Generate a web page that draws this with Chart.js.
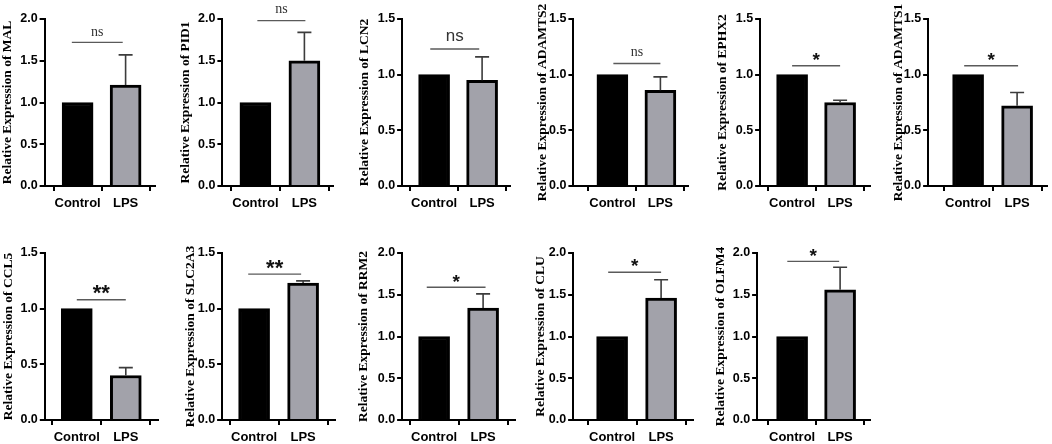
<!DOCTYPE html>
<html>
<head>
<meta charset="utf-8">
<script src="https://cdn.jsdelivr.net/npm/chart.js@4.4.0/dist/chart.umd.min.js"></script>
<style>
  body { margin: 0; width: 1052px; height: 444px; overflow: hidden; background: #fff; position: relative; }
  canvas { position: absolute; }
</style>
</head>
<body>
<script>
// data
const groups = ['Control', 'LPS'];
const genes = ['MAL', 'PID1', 'LCN2', 'ADAMTS2', 'EPHX2', 'ADAMTS1', 'CCL5', 'SLC2A3', 'RRM2', 'CLU', 'OLFM4'];
const controlValues = [1, 1, 1, 1, 1, 1, 1, 1, 1, 1, 1];
const lpsValues = [1.21, 1.50, 0.95, 0.86, 0.75, 0.72, 0.40, 1.23, 1.34, 1.46, 1.56];
const lpsErrorTop = [1.57, 1.84, 1.16, 0.98, 0.77, 0.84, 0.47, 1.25, 1.51, 1.68, 1.83];
const yMaxValues = [2, 2, 1.5, 1.5, 1.5, 1.5, 1.5, 1.5, 2, 2, 2];
const yTickStep = 0.5;
const sigLabels = ['ns', 'ns', 'ns', 'ns', '*', '*', '**', '**', '*', '*', '*'];
const sigLineY = [1.72, 1.98, 1.23, 1.10, 1.08, 1.08, 1.08, 1.31, 1.59, 1.77, 1.90];
const sigTextY = [1.84, 2.12, 1.34, 1.20, 1.18, 1.18, 1.19, 1.42, 1.71, 1.90, 2.02];
const sigFrom = [-0.12, 0.04, -0.08, 0.02, 0, -0.08, 0, -0.12, -0.15, -0.08, -0.1];
const sigTo = [0.94, 1.02, 0.94, 1.0, 1.0, 1.02, 1.0, 0.96, 1.05, 1.0, 0.98];

// panel placement on the page (px)
const axisX = [45, 222, 402, 573, 760, 928, 45, 222, 402, 573, 757];
const tickC0 = [78, 255, 434, 612, 792, 968, 77, 254, 434, 612, 792];
const tickC1 = [126, 304, 482, 660, 840, 1017, 126, 303, 483, 661, 840];
const axisEnd = [155, 333, 510, 688, 870, 1047, 158, 335, 515, 693, 870];
const titleX = [7.5, 184.7, 364, 541.7, 722, 898, 8.3, 190, 363, 540, 720];
const rowTop = [0, 0, 0, 0, 0, 0, 234, 234, 234, 234, 234];
const nsSerif = [true, true, false, true];

const PAD_TOP = 19, PLOT_H = 167, XAXIS_H = 30, PAD_RIGHT = 3;
const TITLE_SIZE = 13.5, TITLE_LH = 1.2;
const SANS = "'Liberation Sans', Arial, sans-serif";
const SERIF = "'Liberation Serif', 'Times New Roman', serif";

const annotate = {
  id: 'annotate',
  afterDatasetsDraw(chart, args, opts) {
    const i = opts.index;
    const { ctx, scales: { x, y } } = chart;
    ctx.save();
    // error bar (upper only)
    const ex = x.getPixelForValue(1);
    const eTop = y.getPixelForValue(lpsErrorTop[i]);
    ctx.strokeStyle = '#3c3c3c';
    ctx.lineWidth = 1.6;
    ctx.beginPath();
    ctx.moveTo(ex, y.getPixelForValue(lpsValues[i]));
    ctx.lineTo(ex, eTop);
    ctx.moveTo(ex - 7, eTop);
    ctx.lineTo(ex + 7, eTop);
    ctx.stroke();
    // significance line
    const ly = y.getPixelForValue(sigLineY[i]);
    ctx.strokeStyle = '#5a5a5a';
    ctx.lineWidth = 1.4;
    ctx.beginPath();
    ctx.moveTo(x.getPixelForValue(sigFrom[i]), ly);
    ctx.lineTo(x.getPixelForValue(sigTo[i]), ly);
    ctx.stroke();
    // label
    const label = sigLabels[i];
    const tx = (x.getPixelForValue(sigFrom[i]) + x.getPixelForValue(sigTo[i])) / 2;
    const ty = y.getPixelForValue(sigTextY[i]);
    ctx.textAlign = 'center';
    ctx.textBaseline = 'alphabetic';
    if (label === 'ns') {
      const size = nsSerif[i] ? 14 : 17;
      ctx.font = `${size}px ${nsSerif[i] ? SERIF : SANS}`;
      ctx.fillStyle = '#333';
      ctx.fillText(label, tx, ty + size * 0.26);
    } else {
      const size = label.length > 1 ? 22 : 19;
      ctx.font = `bold ${size}px ${SANS}`;
      ctx.fillStyle = '#111';
      ctx.fillText(label, tx, ty + size * 0.58);
    }
    ctx.restore();
  }
};

genes.forEach((gene, i) => {
  const left = titleX[i] - TITLE_SIZE * TITLE_LH / 2;
  const yAxisW = axisX[i] - left;
  const unit = tickC1[i] - tickC0[i];
  const xMin = -(tickC0[i] - axisX[i]) / unit;
  const xMax = 1 + (axisEnd[i] - tickC1[i]) / unit;

  const canvas = document.createElement('canvas');
  canvas.width = Math.round(axisEnd[i] - left + PAD_RIGHT);
  canvas.height = PAD_TOP + PLOT_H + XAXIS_H;
  canvas.style.left = left + 'px';
  canvas.style.top = rowTop[i] + 'px';
  document.body.appendChild(canvas);
  // keep right edge exact after rounding
  const padRight = canvas.width - (axisEnd[i] - left);

  new Chart(canvas, {
    type: 'bar',
    data: {
      datasets: [{
        data: [{ x: 0, y: controlValues[i] }, { x: 1, y: lpsValues[i] }],
        backgroundColor: ['#000000', '#a2a2aa'],
        borderColor: '#000000',
        borderWidth: 3,
        borderSkipped: 'bottom',
        barThickness: 31
      }]
    },
    options: {
      responsive: false,
      animation: false,
      layout: { padding: { top: PAD_TOP, right: padRight, bottom: 0, left: 0 } },
      plugins: {
        legend: { display: false },
        tooltip: { enabled: false },
        annotate: { index: i }
      },
      scales: {
        x: {
          type: 'linear',
          offset: false,
          min: xMin,
          max: xMax,
          afterBuildTicks: s => { s.ticks = [{ value: 0 }, { value: 1 }]; },
          afterFit: s => { s.height = XAXIS_H; },
          ticks: {
            callback: v => groups[v],
            color: '#000',
            padding: 5,
            font: { family: SANS, weight: 'bold', size: 13 }
          },
          grid: { display: true, drawOnChartArea: false, drawTicks: true, tickLength: 5, color: '#000', lineWidth: 2 },
          border: { display: true, color: '#000', width: 2 }
        },
        y: {
          min: 0,
          max: yMaxValues[i],
          afterFit: s => { s.width = yAxisW; },
          ticks: {
            stepSize: yTickStep,
            callback: v => v.toFixed(1),
            color: '#000',
            padding: 2,
            font: { family: SANS, weight: 'bold', size: 12.5 }
          },
          grid: { display: true, drawOnChartArea: false, drawTicks: true, tickLength: 5, color: '#000', lineWidth: 2 },
          border: { display: true, color: '#000', width: 2 },
          title: {
            display: true,
            text: 'Relative Expression of ' + gene,
            color: '#000',
            padding: 0,
            font: { family: SERIF, weight: 'bold', size: TITLE_SIZE, lineHeight: TITLE_LH }
          }
        }
      }
    },
    plugins: [annotate]
  });
});
</script>
</body>
</html>
